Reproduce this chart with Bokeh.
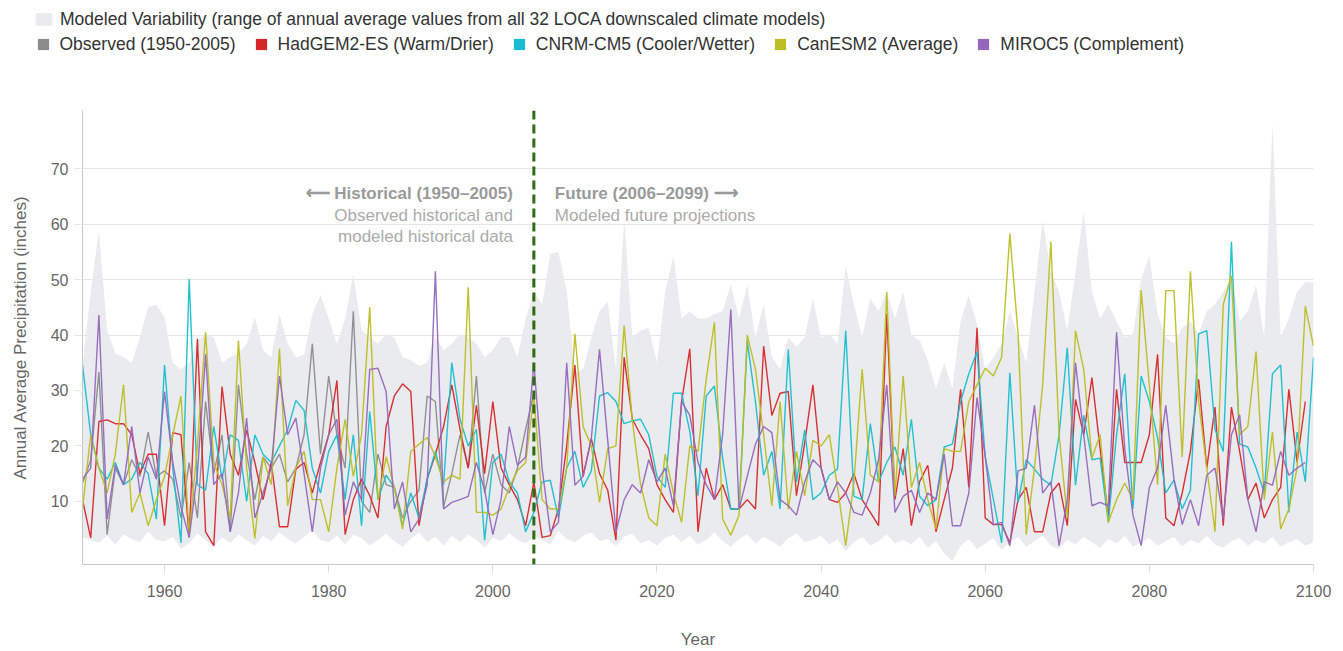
from bokeh.plotting import figure
from bokeh.layouts import column
from bokeh.models import Range1d, FixedTicker, Span, Label, Legend, LegendItem
from bokeh.embed import file_html
from bokeh.resources import INLINE

NAN = float("nan")
FONT = "Liberation Sans"

years = list(range(1950, 2101))
obs_years = list(range(1950, 2006))
x_ticks = [1960, 1980, 2000, 2020, 2040, 2060, 2080, 2100]
y_ticks = [10, 20, 30, 40, 50, 60, 70]
split_year = 2005

observed = [13.3, 17.4, 33.3, 4.0, 16.0, 13.0, 17.5, 14.5, 22.5, 14.5,
            15.5, 14.0, 7.0, 17.0, 7.0, 28.0, 15.0, 22.0, 4.5, 31.0,
            18.5, 10.3, 18.0, 16.0, 18.5, 13.5, 16.0, 22.0, 38.4, 18.5,
            32.6, 22.0, 16.0, 44.3, 10.0, 8.0, 18.5, 13.0, 12.5, 7.0,
            10.0, 12.0, 29.0, 28.0, 9.0, 15.0, 22.0, 16.0, 32.6, 11.5,
            18.5, 13.0, 11.5, 16.0, 23.0, 29.5]

hadgem = [10.3, 3.4, 24.4, 24.7, 24.0, 24.0, 22.0, 15.0, 18.5, 18.5,
          5.6, 22.4, 22.0, 3.5, 39.3, 4.5, 2.0, 30.7, 18.5, 14.7,
          22.9, 17.0, 10.3, 17.0, 5.4, 5.4, 15.8, 17.0, 11.5, 17.0,
          22.0, 31.8, 4.0, 10.3, 14.0, 11.0, 7.0, 23.5, 29.0, 31.2,
          29.8, 5.6, 14.0, 18.5, 23.5, 31.0, 23.0, 16.0, 27.3, 15.0,
          28.0, 16.0, 13.0, 10.3, 5.6, 13.5, 3.5, 3.8, 8.6, 20.0,
          34.6, 14.5, 21.3, 15.0, 12.0, 3.0, 36.0, 24.8, 22.0, 19.5,
          13.0, 10.3, 8.0, 28.0, 37.5, 4.5, 16.0, 10.3, 13.0, 8.6,
          8.6, 10.3, 8.6, 38.0, 25.5, 29.5, 29.8, 11.0, 20.5, 31.0,
          16.0, 10.3, 9.8, 11.5, 15.0, 10.3, 8.0, 5.6, 43.8, 10.3,
          19.5, 5.6, 13.5, 16.5, 4.5, 10.3, 16.0, 30.2, 12.5, 41.3,
          7.0, 5.8, 5.8, 2.5, 10.3, 12.5, 4.5, 4.5, 11.5, 13.3,
          5.6, 28.4, 22.0, 32.3, 19.5, 7.0, 30.2, 17.0, 17.0, 17.0,
          22.0, 36.5, 7.0, 5.6, 11.5, 19.0, 32.0, 16.0, 27.0, 5.6,
          27.0, 19.0, 10.3, 13.3, 7.0, 10.3, 12.5, 30.2, 17.0, 28.0,
          NAN]

cnrm = [34.6, 22.0, 16.0, 14.0, 17.0, 13.0, 14.0, 17.0, 15.0, 6.8,
        34.6, 16.0, 2.5, 50.1, 13.0, 12.0, 23.5, 14.0, 22.0, 21.0,
        10.0, 22.0, 18.5, 17.0, 20.0, 22.9, 28.2, 26.4, 16.0, 11.5,
        19.0, 22.0, 10.3, 22.0, 5.6, 26.2, 10.3, 14.7, 12.5, 5.6,
        11.5, 7.0, 14.0, 19.0, 13.0, 35.0, 24.8, 20.0, 23.0, 3.0,
        17.0, 18.5, 13.5, 11.5, 4.5, 8.0, 13.5, 13.8, 7.0, 16.0,
        19.0, 12.5, 15.5, 29.0, 29.6, 28.0, 24.0, 24.5, 24.8, 22.0,
        14.5, 12.5, 29.5, 29.5, 22.6, 11.0, 29.0, 30.8, 17.8, 8.6,
        8.6, 38.9, 28.0, 14.7, 19.0, 8.6, 37.4, 13.5, 22.9, 10.3,
        11.5, 14.7, 15.8, 40.8, 10.9, 10.3, 24.0, 13.5, 17.0, 19.8,
        14.7, 24.8, 10.9, 9.2, 10.3, 19.8, 20.3, 28.0, 33.0, 37.0,
        18.0, 10.3, 2.5, 33.2, 9.8, 17.5, 15.8, 14.0, 12.9, 22.0,
        37.7, 12.9, 25.5, 17.5, 17.8, 6.2, 22.0, 33.0, 8.6, 32.6,
        28.0, 21.5, 11.5, 13.8, 8.6, 12.0, 40.2, 40.8, 23.0, 19.0,
        56.8, 20.3, 19.8, 16.0, 11.5, 33.0, 34.6, 8.0, 22.5, 13.5,
        36.0]

canesm = [8.6, 22.0, 16.0, 11.5, 18.5, 31.0, 8.0, 11.5, 5.6, 10.3,
          14.5, 22.0, 29.0, 4.0, 20.0, 40.5, 17.0, 13.0, 7.0, 39.0,
          16.0, 3.3, 18.0, 13.0, 37.5, 9.2, 16.0, 19.0, 10.3, 10.3,
          4.5, 16.0, 24.8, 14.5, 22.0, 45.0, 10.3, 18.0, 12.5, 5.0,
          19.0, 20.3, 21.5, 18.0, 13.5, 14.7, 14.0, 48.6, 8.0, 8.0,
          7.5, 8.6, 12.5, 15.5, 17.0, 29.0, 10.3, 8.6, 8.6, 16.0,
          40.2, 23.5, 20.0, 9.8, 19.5, 20.0, 41.7, 24.5, 13.0, 7.0,
          5.6, 18.5, 11.5, 6.2, 20.0, 19.0, 32.0, 42.3, 6.8, 3.9,
          7.5, 40.0, 33.8, 22.0, 9.2, 28.0, 8.6, 19.0, 11.0, 21.0,
          20.0, 22.0, 12.5, 2.0, 13.5, 33.8, 14.7, 13.5, 47.8, 11.0,
          32.6, 12.5, 17.0, 10.3, 5.0, 19.5, 19.0, 19.0, 28.0, 31.0,
          34.0, 32.6, 36.0, 58.3, 40.2, 4.0, 16.0, 31.0, 56.8, 22.0,
          7.0, 40.8, 33.8, 17.8, 22.0, 6.2, 10.3, 13.3, 10.3, 48.1,
          30.8, 13.0, 48.0, 48.0, 18.0, 51.5, 28.0, 16.0, 4.5, 45.5,
          50.7, 22.0, 23.5, 37.0, 10.3, 22.5, 5.0, 8.6, 16.0, 45.2,
          38.0]

miroc = [14.0, 16.0, 43.6, 6.8, 16.5, 13.0, 23.5, 11.5, 18.0, 14.0,
         29.8, 17.0, 9.0, 3.5, 15.0, 36.5, 13.0, 15.0, 4.5, 11.5,
         25.0, 7.0, 11.5, 16.0, 32.6, 22.0, 25.0, 15.0, 4.5, 16.0,
         22.0, 24.8, 7.5, 13.5, 10.3, 33.8, 34.0, 29.8, 8.6, 13.5,
         4.5, 6.8, 13.0, 51.5, 8.6, 9.8, 10.3, 10.9, 17.0, 12.0,
         4.0, 10.3, 23.5, 16.5, 18.0, 35.0, 16.0, 4.5, 6.2, 35.0,
         12.9, 14.5, 21.3, 37.4, 21.0, 4.5, 10.3, 13.0, 11.5, 17.5,
         13.5, 16.0, 9.2, 28.0, 25.5, 17.0, 13.0, 10.3, 22.0, 44.6,
         8.6, 14.5, 20.3, 23.5, 22.4, 10.3, 9.2, 7.5, 13.5, 17.5,
         16.0, 10.3, 13.5, 11.5, 8.0, 7.5, 11.5, 17.5, 31.0, 8.0,
         10.9, 12.0, 8.0, 11.5, 10.3, 18.5, 5.6, 5.6, 11.5, 28.7,
         18.0, 5.8, 6.2, 2.0, 15.5, 16.0, 27.3, 11.5, 13.5, 2.0,
         10.3, 35.0, 22.0, 9.2, 9.8, 9.2, 40.5, 19.5, 7.5, 2.0,
         12.5, 16.0, 27.3, 14.0, 5.8, 10.3, 5.6, 14.7, 16.0, 6.8,
         22.0, 25.6, 10.3, 4.5, 13.5, 12.9, 19.0, 14.7, 16.0, 17.0,
         NAN]

band_high = [34.4, 47.8, 58.9, 40.8, 36.7, 36.0, 35.0, 39.6, 45.0, 45.5,
             43.2, 35.0, 33.8, 35.0, 39.0, 40.2, 39.6, 35.0, 36.0, 36.7,
             38.4, 43.2, 37.3, 36.0, 43.8, 38.4, 36.0, 36.5, 43.8, 47.2,
             43.0, 38.4, 43.0, 51.0, 40.8, 39.6, 38.4, 40.2, 39.6, 36.0,
             35.5, 34.4, 35.0, 39.6, 37.3, 38.4, 40.2, 39.6, 38.4, 36.0,
             37.3, 39.6, 39.6, 36.0, 43.0, 47.8, 45.5, 54.6, 55.0, 48.0,
             33.0, 33.8, 39.6, 44.3, 46.0, 33.8, 61.2, 39.6, 40.8, 41.3,
             35.0, 47.8, 54.2, 43.0, 44.3, 43.0, 43.0, 43.8, 44.3, 49.0,
             43.0, 49.0, 39.6, 45.5, 36.0, 33.8, 39.6, 37.9, 39.6, 46.6,
             39.6, 40.2, 38.4, 52.5, 45.5, 39.6, 46.6, 44.3, 47.8, 43.0,
             47.8, 40.0, 39.0, 35.5, 30.3, 35.0, 30.3, 42.5, 47.2, 41.9,
             33.8, 36.0, 38.4, 44.3, 39.6, 35.0, 47.8, 60.6, 51.3, 47.8,
             40.8, 51.3, 62.4, 47.8, 43.0, 45.5, 42.5, 39.6, 40.2, 50.1,
             54.2, 43.8, 39.6, 38.4, 41.3, 42.5, 40.2, 44.3, 45.5, 47.8,
             50.7, 42.5, 44.3, 49.0, 39.6, 78.2, 39.6, 43.0, 47.8, 49.5,
             49.5]

band_low = [3.5, 3.0, 2.5, 3.8, 2.2, 4.0, 3.2, 2.6, 4.5, 3.0,
            2.8, 3.6, 1.5, 2.4, 4.2, 3.0, 1.8, 3.5, 2.5, 4.0,
            3.0, 2.0, 3.8, 2.8, 4.4, 3.2, 2.4, 3.6, 4.8, 3.0,
            2.6, 3.8, 2.2, 4.0, 3.4, 2.0, 3.0, 4.2, 2.8, 1.8,
            3.2, 4.4, 2.6, 3.6, 2.0, 3.8, 2.6, 4.0, 3.0, 1.6,
            3.4, 2.8, 4.2, 3.0, 2.4, 3.6, 3.0, 2.2, 4.6, 3.2,
            2.6, 3.8, 4.4, 2.8, 3.2, 2.0, 3.6, 4.2, 2.4, 3.0,
            2.0, 3.4, 4.0, 2.6, 3.8, 2.2, 3.0, 4.4, 2.8, 1.8,
            3.2, 4.0, 2.4, 3.6, 2.8, 1.8, 3.4, 4.2, 2.6, 3.0,
            3.8, 2.2, 3.2, 1.0, 2.6, 3.6, 2.0, 2.8, 4.0, 2.4,
            3.0, 2.2, 3.6, 1.6, 2.8, 0.6, -0.8, 2.0, 3.2, 1.4,
            2.4, 3.4, 1.2, 2.6, 3.6, 1.8, 2.8, 3.8, 2.0, 1.4,
            3.0, 2.2, 3.6, 2.6, 1.6, 3.2, 2.4, 3.8, 1.8, 2.6,
            3.4, 2.0, 2.8, 3.6, 1.8, 3.0, 2.4, 3.8, 2.2, 1.6,
            2.8, 3.4, 2.0, 3.0, 2.4, 3.6, 1.8, 2.6, 3.2, 2.0,
            2.6]

for arr in (hadgem, cnrm, canesm, miroc, band_high, band_low):
    assert len(arr) == len(years), len(arr)
assert len(observed) == len(obs_years)

band_label = "Modeled Variability (range of annual average values from all 32 LOCA downscaled climate models)"
band_color = "#eaebef"
series = [
    ("Observed (1950-2005)", "#8c8c8c", obs_years, observed),
    ("HadGEM2-ES (Warm/Drier)", "#d62728", years, hadgem),
    ("CNRM-CM5 (Cooler/Wetter)", "#17becf", years, cnrm),
    ("CanESM2 (Average)", "#bcbd22", years, canesm),
    ("MIROC5 (Complement)", "#9467bd", years, miroc),
]

# ---------------- legend strip (its own figure above the chart) ----------------
lg = figure(width=1343, height=60, output_backend="svg", toolbar_location=None,
            x_range=Range1d(0, 1), y_range=Range1d(0, 1), x_axis_type=None, y_axis_type=None,
            min_border_left=0, min_border_right=0, min_border_top=0, min_border_bottom=0)
lg.outline_line_color = None
lg.background_fill_color = "white"

leg_common = dict(orientation="horizontal", padding=0, margin=0, border_line_color=None,
                  background_fill_alpha=0, label_text_font=FONT, label_text_font_size="17.5px",
                  label_text_color="#333333", label_height=24, click_policy="none")

# swatch renderers: one NaN row each so that the legend draws its key, nothing visible on the strip
band_key = lg.quad(left=[NAN], right=[NAN], top=[NAN], bottom=[NAN],
                   fill_color=band_color, line_color=None)
leg1 = Legend(items=[LegendItem(label=band_label, renderers=[band_key])], location=(33, 29),
              glyph_width=21, glyph_height=16, label_standoff=6, **leg_common)
keys = []
for name, color, xs, ys in series:
    kr = lg.quad(left=[NAN], right=[NAN], top=[NAN], bottom=[NAN], fill_color=color, line_color=None)
    keys.append(LegendItem(label=name, renderers=[kr]))
leg2 = Legend(items=keys, location=(35.5, 4), glyph_width=14, glyph_height=14,
              label_standoff=10, spacing=18, **leg_common)
lg.add_layout(leg1)
lg.add_layout(leg2)

# ---------------- main chart ----------------
p = figure(width=1343, height=591, output_backend="svg", toolbar_location=None,
           x_range=Range1d(1950, 2100), y_range=Range1d(-1.4, 80.5),
           min_border_left=82, min_border_right=30, min_border_top=50, min_border_bottom=74)
p.outline_line_color = None
p.background_fill_color = "white"

p.xgrid.grid_line_color = None
p.ygrid.grid_line_color = "#e6e6e6"
p.ygrid.grid_line_width = 1

p.xaxis.ticker = FixedTicker(ticks=x_ticks)
p.yaxis.ticker = FixedTicker(ticks=y_ticks)
for ax in (p.xaxis[0], p.yaxis[0]):
    ax.axis_line_color = "#c8c8c8"
    ax.major_tick_line_color = "#d8dde8"
    ax.minor_tick_line_color = None
    ax.major_tick_in = 0
    ax.major_tick_out = 8
    ax.major_label_text_font = FONT
    ax.major_label_text_font_size = "16px"
    ax.major_label_text_color = "#666666"
    ax.axis_label_text_font = FONT
    ax.axis_label_text_font_style = "normal"
    ax.axis_label_text_color = "#666666"
    ax.axis_label_text_font_size = "17px"
p.yaxis.major_tick_line_color = "#e6e6e6"
p.xaxis.axis_label = "Year"
p.yaxis.axis_label = "Annual Average Precipitation (inches)"
p.xaxis.major_label_standoff = 12
p.xaxis.axis_label_standoff = 30
p.yaxis.major_label_standoff = 6
p.yaxis.axis_label_standoff = 18

p.varea(x=years, y1=band_low, y2=band_high, fill_color=band_color, fill_alpha=1.0)

for name, color, xs, ys in series:
    p.line(xs, ys, line_color=color, line_width=1.4, line_alpha=0.95)

p.add_layout(Span(location=split_year, dimension="height", line_color="#2e6b10",
                  line_width=3, line_dash="9 5"))

ann_bold = dict(text_font=FONT, text_font_size="17px", text_font_style="bold",
                text_color="#9a9a9a", text_baseline="middle", x_units="data", y_units="screen")
ann_norm = dict(text_font=FONT, text_font_size="17px", text_color="#ababab",
                text_baseline="middle", x_units="data", y_units="screen")
p.add_layout(Label(x=split_year, y=371, x_offset=-21, text="\u27f5 Historical (1950\u20132005)",
                   text_align="right", **ann_bold))
p.add_layout(Label(x=split_year, y=349, x_offset=-21, text="Observed historical and",
                   text_align="right", **ann_norm))
p.add_layout(Label(x=split_year, y=328, x_offset=-21, text="modeled historical data",
                   text_align="right", **ann_norm))
p.add_layout(Label(x=split_year, y=371, x_offset=21, text="Future (2006\u20132099) \u27f6",
                   text_align="left", **ann_bold))
p.add_layout(Label(x=split_year, y=349, x_offset=21, text="Modeled future projections",
                   text_align="left", **ann_norm))

layout = column(column(lg), p, spacing=0)
open("out.html", "w").write(file_html(layout, INLINE))
